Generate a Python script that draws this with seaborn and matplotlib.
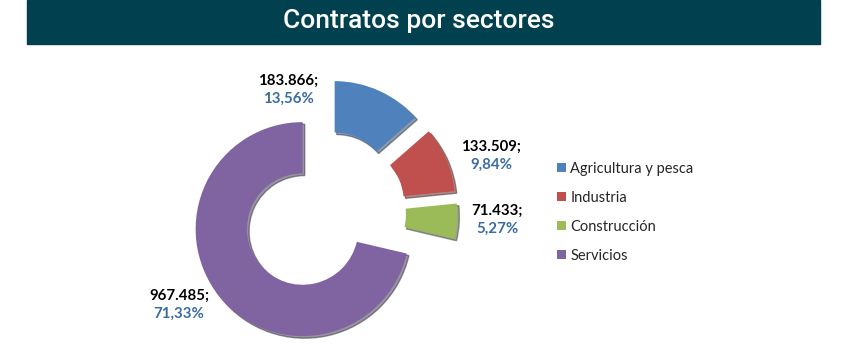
import matplotlib
matplotlib.use("Agg")
import matplotlib.pyplot as plt
from matplotlib.patches import Rectangle
import seaborn as sns

# ---- data ----
sectors = ["Agricultura y pesca", "Industria", "Construcción", "Servicios"]
contracts = [183866, 133509, 71433, 967485]
value_labels = ["183.866;", "133.509;", "71.433;", "967.485;"]
pct_labels = ["13,56%", "9,84%", "5,27%", "71,33%"]
title = "Contratos por sectores"

# ---- style ----
sns.set_theme(style="white")
plt.rcParams["font.family"] = ["Lato", "DejaVu Sans"]
colors = sns.color_palette(["#4F81BD", "#C0504D", "#9BBB59", "#8064A2"])
pct_color = "#3A6BA3"
banner_color = "#01404E"

W, H = 844, 352
fig = plt.figure(figsize=(W / 100, H / 100), dpi=100)
ax = fig.add_axes([0, 0, 1, 1])

R = 107.0          # radius in px
cx, cy = 323.6, 352 - 212.5   # pie centre in px from bottom-left

wedges, _ = ax.pie(
    contracts,
    colors=colors,
    startangle=90,
    counterclock=False,
    explode=[0.25] * 4,
    wedgeprops=dict(width=0.48, edgecolor="none"),
    shadow=dict(ox=0.014, oy=-0.014, shade=0.6),
)
ax.set_xlim(-cx / R, (W - cx) / R)
ax.set_ylim(-cy / R, (H - cy) / R)
ax.axis("off")

# data labels (manual placement as in the original, px from top-left)
label_pos = [(288, 90), (491, 155.5), (497, 219.5), (179, 305)]
for (px, py), v, p in zip(label_pos, value_labels, pct_labels):
    x = (px - cx) / R
    y = ((H - py) - cy) / R
    ax.text(x, y + 0.02, v, ha="center", va="bottom", fontsize=10.8,
            fontweight="bold", color="black")
    ax.text(x, y - 0.02, p, ha="center", va="top", fontsize=10.8,
            fontweight="bold", color=pct_color)

# legend
leg = fig.legend(wedges, sectors, loc="upper left",
                 bbox_to_anchor=(557 / W, 1 - 162 / H),
                 frameon=False, fontsize=10.5, handlelength=0.6,
                 handleheight=0.6, handletextpad=0.3, labelspacing=1.02,
                 borderaxespad=0, borderpad=0)

# title banner
fig.patches.append(Rectangle((27 / W, 1 - 44 / H), (820 - 27) / W, 44 / H,
                             transform=fig.transFigure, color=banner_color,
                             zorder=0))
fig.text(419 / W, 1 - 21 / H, title, ha="center", va="center", color="white",
         fontsize=19, fontweight="medium", family=["Roboto", "DejaVu Sans"])

fig.savefig("out.png", dpi=100)
